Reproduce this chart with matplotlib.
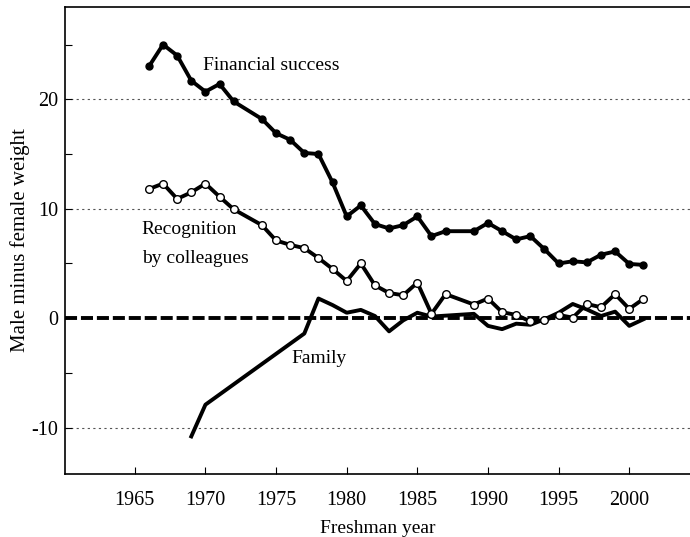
import matplotlib
matplotlib.use("Agg")
import matplotlib.pyplot as plt
from matplotlib.ticker import MultipleLocator

plt.rcParams['font.family'] = ['Liberation Serif', 'DejaVu Serif']
plt.rcParams['axes.unicode_minus'] = False

years = [1966, 1967, 1968, 1969, 1970, 1971, 1972, 1974, 1975, 1976, 1977, 1978,
         1979, 1980, 1981, 1982, 1983, 1984, 1985, 1986, 1987, 1989, 1990, 1991,
         1992, 1993, 1994, 1995, 1996, 1997, 1998, 1999, 2000, 2001]
financial = [23.0, 25.0, 24.0, 21.7, 20.7, 21.4, 19.8, 18.2, 16.9, 16.3, 15.1, 15.0,
             12.4, 9.3, 10.3, 8.6, 8.2, 8.5, 9.3, 7.5, 7.95, 7.95, 8.7, 7.95,
             7.2, 7.5, 6.3, 5.0, 5.2, 5.1, 5.8, 6.1, 4.96, 4.87]
recognition = [11.8, 12.3, 10.9, 11.5, 12.3, 11.1, 9.95, 8.5, 7.1, 6.7, 6.4, 5.5,
               4.5, 3.4, 5.0, 3.0, 2.3, 2.1, 3.25, 0.4, 2.2, 1.25, 1.8, 0.55,
               0.3, -0.3, -0.2, 0.3, 0.05, 1.3, 1.0, 2.2, 0.85, 1.76]
family_years = [1969, 1970, 1977, 1978, 1979, 1980, 1981, 1982, 1983, 1984, 1985, 1986,
                1989, 1990, 1991, 1992, 1993, 1994, 1995, 1996, 1997, 1998, 1999, 2000, 2001]
family = [-10.8, -7.9, -1.4, 1.8, 1.2, 0.5, 0.76, 0.2, -1.2, -0.2, 0.5, 0.15,
          0.4, -0.7, -1.0, -0.5, -0.6, -0.1, 0.5, 1.3, 0.8, 0.2, 0.6, -0.7, -0.1]
x_ticks = [1965, 1970, 1975, 1980, 1985, 1990, 1995, 2000]
y_ticks = [-10, 0, 10, 20]

fig = plt.figure(figsize=(6.9, 5.37), dpi=100)
ax = fig.add_axes([0.094, 0.117, 0.906, 0.8705])

for yv in [-10, 10, 20]:
    ax.axhline(yv, color='#555555', lw=0.8, ls=(0, (2, 3)), zorder=1)
ax.axhline(0, color='black', lw=2.8, dashes=(3.1, 1.0), zorder=2)

ax.plot(years, financial, color='black', lw=2.8, marker='o', ms=5,
        mfc='black', mec='black', zorder=4)
ax.plot(years, recognition, color='black', lw=2.8, marker='o', ms=5.5,
        mfc='white', mec='black', mew=1.0, zorder=4)
ax.plot(family_years, family, color='black', lw=2.8, zorder=3)

ax.text(1969.8, 23.1, 'Financial success', fontsize=14, ha='left', va='center')
ax.text(1965.5, 8.1, 'Recognition', fontsize=14, ha='left', va='center')
ax.text(1965.5, 5.5, 'by colleagues', fontsize=14, ha='left', va='center')
ax.text(1976.1, -3.65, 'Family', fontsize=14, ha='left', va='center')

ax.set_xlim(1960.05, 2004.3)
ax.set_ylim(-14.25, 28.46)
ax.set_xticks(x_ticks)
ax.set_yticks(y_ticks)
ax.yaxis.set_minor_locator(MultipleLocator(5))
ax.tick_params(axis='both', which='both', direction='in', labelsize=14.5)
ax.tick_params(axis='both', which='major', length=5, width=0.8)
ax.tick_params(axis='y', which='minor', length=5, width=0.8)
ax.tick_params(axis='x', pad=12)
ax.tick_params(axis='y', pad=5)
ax.spines['right'].set_visible(False)
for s in ['top', 'left', 'bottom']:
    ax.spines[s].set_linewidth(1.2)

ax.set_xlabel('Freshman year', fontsize=14, labelpad=7)
ax.set_ylabel('Male minus female weight', fontsize=15, labelpad=1)

fig.savefig('out.png', dpi=100)
